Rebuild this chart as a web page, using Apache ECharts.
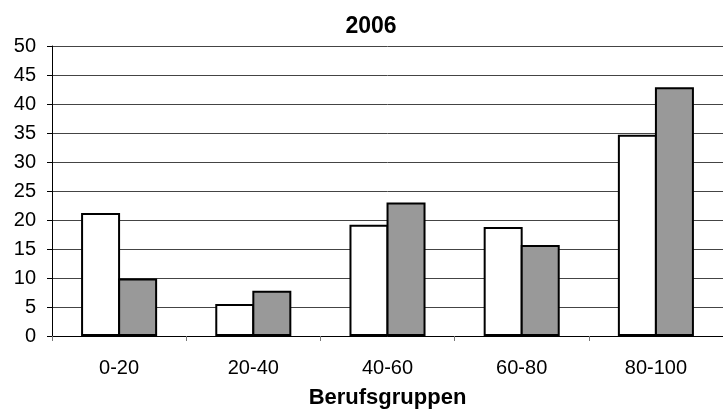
<!DOCTYPE html>
<html>
<head>
<meta charset="utf-8">
<script src="https://cdn.jsdelivr.net/npm/echarts@6/dist/echarts.min.js"></script>
<style>
  html, body { margin: 0; padding: 0; background: #fff; }
  #chart { width: 723px; height: 414px; }
</style>
</head>
<body>
<div id="chart"></div>
<script>
// values
const categories = ['0-20', '20-40', '40-60', '60-80', '80-100'];
const seriesA = [21.2, 5.5, 19.2, 18.8, 34.7];
const seriesB = [9.9, 7.8, 23.0, 15.7, 42.9];
const yTicks = { min: 0, max: 50, interval: 5 };

const font = 'Liberation Sans, Arial, sans-serif';
const chart = echarts.init(document.getElementById('chart'));

chart.setOption({
  animation: false,
  backgroundColor: '#fff',
  title: {
    text: '2006',
    left: 366,
    top: 10,
    textAlign: 'center',
    textStyle: { fontFamily: font, fontSize: 23, fontWeight: 'bold', color: '#000' }
  },
  // plot runs past the right edge of the window, as in the reference crop
  grid: { left: 52, top: 46, width: 678, bottom: 78, containLabel: false },
  xAxis: {
    type: 'category',
    data: categories,
    name: 'Berufsgruppen',
    nameLocation: 'middle',
    nameGap: 51,
    nameTextStyle: { fontFamily: font, fontSize: 22, fontWeight: 'bold', color: '#000' },
    axisLine: { lineStyle: { color: '#000', width: 1 } },
    axisTick: { show: true, length: 5, lineStyle: { color: '#777' } },
    axisLabel: { fontFamily: font, fontSize: 20, color: '#000', margin: 22 }
  },
  yAxis: {
    type: 'value',
    min: yTicks.min,
    max: yTicks.max,
    interval: yTicks.interval,
    axisLine: { show: true, lineStyle: { color: '#000', width: 1 } },
    axisTick: { show: true, length: 5, lineStyle: { color: '#000' } },
    axisLabel: { fontFamily: font, fontSize: 20, color: '#000', margin: 16 },
    splitLine: { lineStyle: { color: '#444', width: 1 } }
  },
  series: [
    {
      type: 'bar',
      data: seriesA,
      barWidth: 39,
      barGap: '-5%',
      itemStyle: { color: '#fff', borderColor: '#000', borderWidth: 2 }
    },
    {
      type: 'bar',
      data: seriesB,
      barWidth: 39,
      barGap: '-5%',
      itemStyle: { color: '#999', borderColor: '#000', borderWidth: 2 }
    }
  ]
});
</script>
</body>
</html>
